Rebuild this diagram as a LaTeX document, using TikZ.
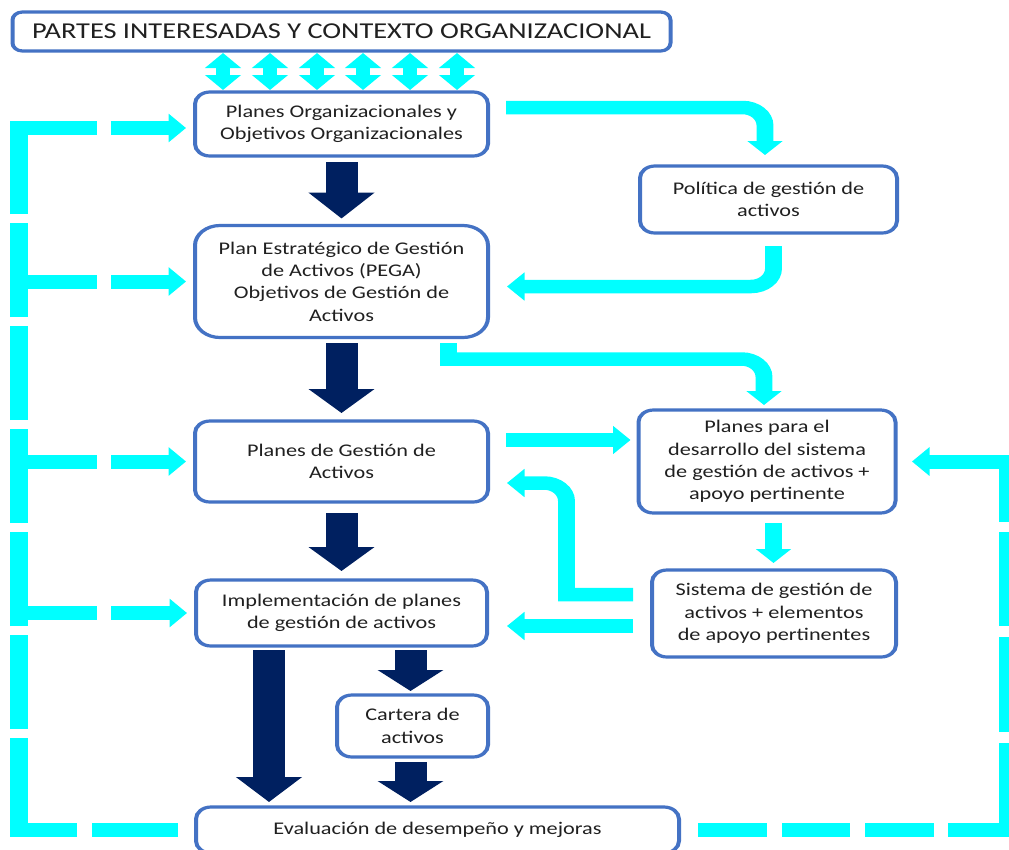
\documentclass[tikz,border=0pt]{standalone}
\usepackage{fontspec}
\setmainfont{Carlito}
\usetikzlibrary{arrows.meta,calc}
\definecolor{cyanc}{HTML}{00FFFF}
\definecolor{navyc}{HTML}{002060}
\definecolor{boxc}{HTML}{4472C4}
\definecolor{txtc}{HTML}{202020}
\begin{document}
\begin{tikzpicture}[x=0.8pt,y=-1pt,
  box/.style={draw=boxc, line width=3.2pt, rounded corners=12pt, fill=white, align=center,
    inner sep=0pt, outer sep=0pt, text=txtc, font=\fontsize{17.8}{22.3}\selectfont},
  cyanarr/.style={draw=cyanc, line width=13.5pt, rounded corners=18pt, -{Triangle[length=14pt,width=27.5pt]}},
  cyandbl/.style={draw=cyanc, line width=10.5pt, {Triangle[length=15pt,width=28pt]}-{Triangle[length=15pt,width=28pt]}},
  cyandash/.style={draw=cyanc, line width=14pt, -{Triangle[length=14pt,width=28pt]}},
  navyarr/.style={draw=navyc, line width=25.6pt, -{Triangle[length=#1,width=51.5pt]}}
]
\useasboundingbox (0pt,0pt) rectangle (1009pt,-849pt);
\fill[white] (0pt,0pt) rectangle (1009pt,-849pt);
\begin{scope}[transform canvas={xscale=1.25}]
% boxes
\node[box, minimum width=526.4pt, minimum height=39pt, rounded corners=8pt, font=\fontsize{22.7}{26}\selectfont] (title) at (341.5,31.5) {PARTES INTERESADAS Y CONTEXTO ORGANIZACIONAL};
\node[box, minimum width=234.4pt, minimum height=64pt] (porg) at (341.5,124) {Planes Organizacionales y\\Objetivos Organizacionales};
\node[box, minimum width=234.4pt, minimum height=112pt, rounded corners=20pt] (pega) at (341.5,281.5) {Plan Estratégico de Gestión\\de Activos (PEGA)\\Objetivos de Gestión de\\Activos};
\node[box, minimum width=234.4pt, minimum height=81pt] (pgest) at (341.5,461.5) {Planes de Gestión de\\Activos};
\node[box, minimum width=232.8pt, minimum height=66pt] (impl) at (341.5,613) {Implementación de planes\\de gestión de activos};
\node[box, minimum width=120.8pt, minimum height=62pt] (cart) at (412.5,726) {Cartera de\\activos};
\node[box, minimum width=386.4pt, minimum height=46pt] (eval) at (437.5,830) {Evaluación de desempeño y mejoras};
\node[box, minimum width=205.6pt, minimum height=67pt] (pol) at (768.5,199.5) {Política de gestión de\\activos};
\node[box, minimum width=205.6pt, minimum height=103pt] (pdev) at (767,461.5) {Planes para el\\desarrollo del sistema\\de gestión de activos +\\apoyo pertinente};
\node[box, minimum width=195.2pt, minimum height=87pt] (sist) at (774,613.5) {Sistema de gestión de\\activos + elementos\\de apoyo pertinentes};
% double arrows
\foreach \dx in {-118.5,-71.5,-24.5,21.5,68.5,115.5}
  \draw[cyandbl] ($(title.south)+(\dx,2)$) -- ($(porg.north)+(\dx,-2)$);
% navy arrows
\draw[navyarr=26pt] ($(porg.south)+(0,6)$) -- ($(pega.north)+(0,-7)$);
\draw[navyarr=24pt] ($(pega.south)+(0,5.5)$) -- ($(pgest.north)+(0,-8)$);
\draw[navyarr=24pt] ($(pgest.south)+(0,11)$) -- ($(impl.north)+(0,-9)$);
\draw[navyarr=25pt] ($(impl.south)+(-72.5,4)$) -- ($(eval.north)+(-168.5,-5)$);
\draw[navyarr=21pt] ($(impl.south)+(69,4)$) -- ($(cart.north)+(-2,-4)$);
\draw[navyarr=21pt] ($(cart.south)+(-2,5)$) -- ($(eval.north)+(-27,-5)$);
% cyan arrows
\draw[cyanarr] ($(porg.east)+(18,-16.5)$) -| ($(pol.north)+(-3.5,-11)$);
\draw[cyanarr] ($(pol.south)+(5,13)$) |- ($(pega.east)+(19,5)$);
\draw[cyanarr, sharp corners] ($(pega.south)+(107,5.5)$) -- ($(pega.south)+(107,21.5)$) [rounded corners=18pt] -- ($(pdev.north)+(-3,-51)$) -- ($(pdev.north)+(-3,-5)$);
\draw[cyanarr] ($(pgest.east)+(18,-21.5)$) -- ($(pdev.west)+(-8,-21.5)$);
\draw[cyanarr, sharp corners] ($(sist.west)+(-19,-19)$) -- ($(sist.west)+(-85.5,-19)$) [rounded corners=18pt] -- ($(pgest.east)+(78.5,21.5)$) -- ($(pgest.east)+(19,21.5)$);
\draw[cyanarr] ($(sist.west)+(-19,12.5)$) -- ($(impl.east)+(20,13)$);
\draw[cyanarr] ($(pdev.south)+(6.5,10)$) -- ($(sist.north)+(-0.5,-7)$);
% left feedback loop
\coordinate (lt) at (19,128);
\draw[cyandash, dash pattern=on 68.8pt off 12pt on 138.4pt off 9pt on 94pt off 9pt on 94pt off 9pt on 94pt off 9pt on 94pt off 9pt on 94pt off 9pt on 148.4pt off 11.2pt on 600pt]
  ($(eval.west)+(-18,0)$) -| (lt) -- ($(porg.west)+(-9,4)$);
\foreach \b in {pega,pgest,impl}
  \draw[cyandash, dash pattern=on 62.4pt off 11.2pt on 600pt] (lt |- \b.west) -- ($(\b.west)+(-9,0)$);
% right feedback loop
\coordinate (rt) at (1007.75,461.5);
\draw[cyandash, dash pattern=on 55.2pt off 12pt on 54.4pt off 12pt on 55.2pt off 11.2pt on 134.8pt off 11pt on 95pt off 11pt on 94pt off 10pt on 600pt]
  ($(eval.east)+(19,0)$) -| (rt) -- ($(pdev.east)+(16.5,0)$);
\end{scope}
\end{tikzpicture}
\end{document}
